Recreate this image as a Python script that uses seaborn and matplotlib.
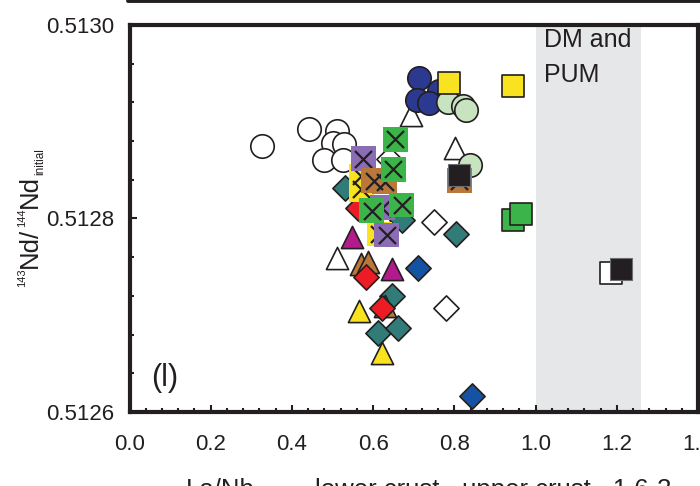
import matplotlib
matplotlib.use("Agg")
import matplotlib.pyplot as plt
from matplotlib.lines import Line2D
from matplotlib.ticker import MultipleLocator, FormatStrFormatter
import seaborn as sns

# ---- data: La/Nb (x) and initial 143Nd/144Nd (y), one pair of lists per symbol ----
open_circle_x = [0.326, 0.443, 0.510, 0.500, 0.529, 0.480, 0.525]
open_circle_y = [0.512875, 0.512893, 0.512890, 0.512878, 0.512877, 0.512860, 0.512860]

open_triangle_x = [0.694, 0.802, 0.510]
open_triangle_y = [0.512907, 0.512873, 0.512759]

navy_circle_x = [0.714, 0.763, 0.709, 0.738]
navy_circle_y = [0.512945, 0.512932, 0.512922, 0.512919]

pale_green_circle_x = [0.785, 0.822, 0.829, 0.839]
pale_green_circle_y = [0.512920, 0.512916, 0.512912, 0.512855]

teal_diamond_x = [0.530, 0.672, 0.805, 0.647, 0.613, 0.662]
teal_diamond_y = [0.512832, 0.512798, 0.512784, 0.512720, 0.512682, 0.512687]

open_diamond_x = [0.640, 0.751, 0.780]
open_diamond_y = [0.512862, 0.512796, 0.512707]

blue_diamond_x = [0.711, 0.844]
blue_diamond_y = [0.512749, 0.512617]

brown_triangle_x = [0.569, 0.588, 0.628]
brown_triangle_y = [0.512753, 0.512755, 0.512710]

red_diamond_x = [0.562, 0.583, 0.623]
red_diamond_y = [0.512811, 0.512740, 0.512707]

magenta_triangle_x = [0.549, 0.647]
magenta_triangle_y = [0.512781, 0.512748]

yellow_triangle_x = [0.564, 0.623]
yellow_triangle_y = [0.512704, 0.512661]

yellow_cross_x = [0.571, 0.571, 0.615]
yellow_cross_y = [0.512844, 0.512830, 0.512784]

purple_cross_x = [0.576, 0.623, 0.633]
purple_cross_y = [0.512862, 0.512811, 0.512783]

brown_cross_x = [0.601, 0.628, 0.812]
brown_cross_y = [0.512839, 0.512838, 0.512839]

green_cross_x = [0.655, 0.650, 0.596, 0.670]
green_cross_y = [0.512882, 0.512851, 0.512808, 0.512814]

yellow_square_x = [0.787, 0.945]
yellow_square_y = [0.512940, 0.512937]

green_square_x = [0.945, 0.964]
green_square_y = [0.512798, 0.512805]

open_square_x = [1.186]
open_square_y = [0.512744]

black_square_x = [0.812, 1.210]
black_square_y = [0.512845, 0.512748]

x_ticks = [0.0, 0.2, 0.4, 0.6, 0.8, 1.0, 1.2, 1.4]
y_ticks = [0.5126, 0.5128, 0.5130]
dm_pum_range = [1.0, 1.26]

# ---- style ----
INK = "#231f20"
W, H = 700, 486

sns.set_style("ticks")
plt.rcParams["font.family"] = ["Liberation Sans", "DejaVu Sans"]
plt.rcParams["text.color"] = INK
plt.rcParams["xtick.color"] = INK
plt.rcParams["ytick.color"] = INK

fig = plt.figure(figsize=(W / 100, H / 100), dpi=100)
ax = fig.add_axes([129.5 / W, 1 - 412 / H, (698 - 129.5) / W, (412 - 25) / H])

ax.axvspan(dm_pum_range[0], dm_pum_range[1], color="#e6e7e8", zorder=0, lw=0)

CIRCLE, TRIANGLE, DIAMOND, SQUARE, CROSSED = 285, 255, 165, 230, 320


def draw(x, y, marker, face, size, edge=INK, lw=1.2, z=3):
    sns.scatterplot(x=x, y=y, marker=marker, s=size, color=face,
                    edgecolor=edge, linewidth=lw, ax=ax, zorder=z, legend=False)


def draw_crossed(x, y, face, z):
    draw(x, y, "s", face, CROSSED, edge="none", lw=0, z=z)
    sns.scatterplot(x=x, y=y, marker="x", s=150, color=INK, linewidth=1.6,
                    ax=ax, zorder=z + 0.01, legend=False)


draw(open_circle_x, open_circle_y, "o", "white", CIRCLE, z=2)
draw(open_triangle_x, open_triangle_y, "^", "white", TRIANGLE, z=2.1)
draw(navy_circle_x, navy_circle_y, "o", "#2b3990", CIRCLE, z=2.2)
draw(pale_green_circle_x, pale_green_circle_y, "o", "#c8e3bf", CIRCLE, z=2.3)
draw(teal_diamond_x, teal_diamond_y, "D", "#317b78", DIAMOND, z=2.4)
draw(open_diamond_x, open_diamond_y, "D", "white", DIAMOND, z=2.5)
draw(blue_diamond_x, blue_diamond_y, "D", "#1452a3", DIAMOND, z=2.6)
draw(brown_triangle_x, brown_triangle_y, "^", "#b9773a", TRIANGLE, z=2.7)
draw(red_diamond_x, red_diamond_y, "D", "#ed1c24", DIAMOND, z=2.8)
draw(magenta_triangle_x, magenta_triangle_y, "^", "#b31b8c", TRIANGLE, z=2.9)
draw(yellow_triangle_x, yellow_triangle_y, "^", "#f9e21f", TRIANGLE, z=3.0)
draw_crossed(yellow_cross_x, yellow_cross_y, "#f9e21f", 3.1)
draw_crossed(purple_cross_x, purple_cross_y, "#8b6db3", 3.2)
draw_crossed(brown_cross_x, brown_cross_y, "#b9773a", 3.3)
draw_crossed(green_cross_x, green_cross_y, "#3bb54a", 3.4)
draw(yellow_square_x, yellow_square_y, "s", "#f9e21f", SQUARE, z=3.5)
draw(green_square_x, green_square_y, "s", "#3bb54a", SQUARE, z=3.5)
draw(open_square_x, open_square_y, "s", "white", SQUARE, z=3.5)
draw(black_square_x, black_square_y, "s", INK, SQUARE, edge="#6d6e71", lw=0.8, z=3.6)

# ---- axes ----
ax.set_xlim(0, 1.4)
ax.set_ylim(0.5126, 0.5130)
ax.set_xticks(x_ticks)
ax.set_yticks(y_ticks)
ax.xaxis.set_major_formatter(FormatStrFormatter("%.1f"))
ax.yaxis.set_major_formatter(FormatStrFormatter("%.4f"))
ax.xaxis.set_minor_locator(MultipleLocator(0.04))
ax.yaxis.set_minor_locator(MultipleLocator(0.00004))
ax.tick_params(which="both", direction="in", color=INK, width=1.5,
               top=False, right=False)
ax.tick_params(which="major", length=5, labelsize=16)
ax.tick_params(which="minor", length=3)
ax.tick_params(axis="x", which="major", pad=16)
ax.tick_params(axis="y", which="major", pad=11)
for side in ["left", "right", "top", "bottom"]:
    ax.spines[side].set_visible(True)
    ax.spines[side].set_linewidth(3)
    ax.spines[side].set_color(INK)
ax.set_xlabel("")
ax.set_ylabel("")

ax.text(1.02, 0.992, "DM and\nPUM", transform=ax.get_xaxis_transform(),
        ha="left", va="top", fontsize=18, linespacing=1.55, zorder=5)
ax.text(0.053, 0.512635, "(l)", ha="left", va="center", fontsize=22, zorder=5)

# bottom frame of the panel above
fig.add_artist(Line2D([128 / W, 1.0], [1 - 1.5 / H] * 2, lw=2.8, color=INK))

# x-axis caption
fig.text(186 / W, 1 - 497 / H, "La/Nb", fontsize=18.5, ha="left", va="baseline")
fig.text(315 / W, 1 - 497 / H, "lower crust - upper crust ~1.6-3",
         fontsize=18.5, ha="left", va="baseline")

# y-axis caption built from rotated pieces (superscripts / subscript)
renderer = fig.canvas.get_renderer()
pieces = [("143", 8, -12), ("Nd/", 18.5, 0), ("144", 8, -12), ("Nd", 18.5, 0),
          ("initial", 8.5, 6)]
base_x = 37
pos_y = 287
for txt, size, dx in pieces:
    t = fig.text((base_x + dx) / W, 1 - pos_y / H, txt, rotation=90,
                 rotation_mode="anchor", ha="left", va="baseline", fontsize=size)
    bb = t.get_window_extent(renderer)
    pos_y -= bb.height + 0.5

fig.savefig("out.png", dpi=100)
